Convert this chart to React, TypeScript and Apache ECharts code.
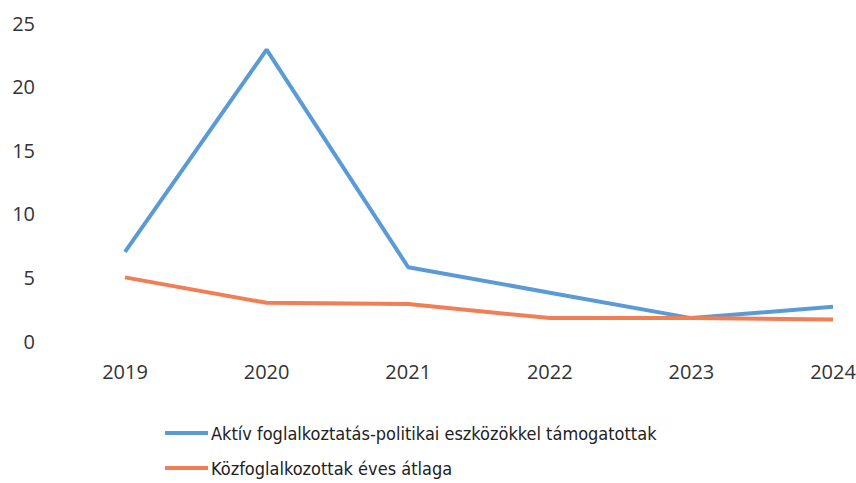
import React, { useEffect, useRef } from "react";
import * as echarts from "echarts";

const categories = ["2019", "2020", "2021", "2022", "2023", "2024"];
const activeSupported = [7.0, 22.9, 5.8, 3.8, 1.8, 2.7];
const publicWorkers = [5.0, 3.0, 2.9, 1.8, 1.8, 1.7];
const seriesNames = [
  "Aktív foglalkoztatás-politikai eszközökkel támogatottak",
  "Közfoglalkozottak éves átlaga",
];

export default function App() {
  const ref = useRef<HTMLDivElement>(null);
  useEffect(() => {
    if (!ref.current) return;
    const chart = echarts.init(ref.current, undefined, { renderer: "svg" });
    const font = "'Open Sans', 'Liberation Sans', sans-serif";
    const legendBase = {
      orient: "horizontal",
      left: 165,
      itemWidth: 43,
      itemHeight: 4,
      icon: "rect",
      padding: 0,
      textStyle: {
        color: "#222222",
        fontSize: 18,
        fontFamily: "'DejaVu Sans Condensed', sans-serif",
        padding: [0, 0, 0, -2],
      },
    };
    chart.setOption({
      animation: false,
      backgroundColor: "#ffffff",
      color: ["#5B9BD5", "#F07F55"],
      grid: {
        left: 125,
        right: 23,
        top: 23,
        bottom: 142,
        containLabel: false,
        outerBoundsMode: "none",
      },
      xAxis: {
        type: "category",
        data: categories,
        boundaryGap: false,
        axisLine: { show: false },
        axisTick: { show: false },
        splitLine: { show: false },
        axisLabel: {
          color: "#333333",
          fontSize: 20,
          fontFamily: font,
          margin: 20,
        },
      },
      yAxis: {
        type: "value",
        min: 0,
        max: 25,
        interval: 5,
        axisLine: { show: false },
        axisTick: { show: false },
        splitLine: { show: false },
        axisLabel: {
          color: "#333333",
          fontSize: 20,
          fontFamily: font,
          margin: 90,
        },
      },
      legend: [
        { ...legendBase, top: 424, data: [seriesNames[0]] },
        { ...legendBase, top: 459, data: [seriesNames[1]] },
      ],
      series: [
        {
          name: seriesNames[0],
          type: "line",
          data: activeSupported,
          symbol: "none",
          lineStyle: { width: 4 },
        },
        {
          name: seriesNames[1],
          type: "line",
          data: publicWorkers,
          symbol: "none",
          lineStyle: { width: 4 },
        },
      ],
    });
    return () => chart.dispose();
  }, []);
  return (
    <div
      ref={ref}
      style={{ position: "absolute", left: 0, top: 0, width: 856, height: 483 }}
    />
  );
}
